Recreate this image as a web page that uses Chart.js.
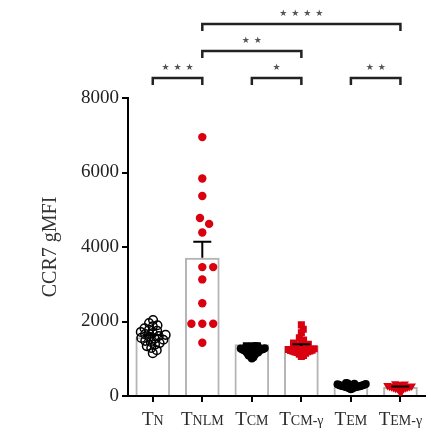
<!DOCTYPE html>
<html><head><meta charset="utf-8">
<script src="https://cdn.jsdelivr.net/npm/chart.js@4/dist/chart.umd.min.js"></script>
<style>html,body{margin:0;padding:0;background:#fff}canvas{display:block}</style>
</head><body>
<canvas id="c" width="431" height="435"></canvas>
<script>
// ---- data ----
const categories = ["TN", "TNLM", "TCM", "TCM-γ", "TEM", "TEM-γ"];
const means = [1580, 3710, 1390, 1340, 320, 240];
const sems  = [60, 430, 25, 50, 12, 18];
const yTicks = [0, 2000, 4000, 6000, 8000];
const yTitle = "CCR7 gMFI";

const tnValues = [2040, 1960, 1900, 1870, 1820, 1780, 1750, 1720, 1690, 1660, 1640, 1610,
                  1590, 1560, 1540, 1510, 1480, 1450, 1420, 1380, 1340, 1290, 1230, 1150];
const tnlmValues = [6950, 5840, 5370, 4780, 4620, 4390, 3460, 3460, 3130, 2490, 1940, 1940, 1940, 1430];
const tcmValues = [1010, 1040, 1070, 1090, 1110, 1130, 1150, 1160, 1170, 1180, 1190, 1200, 1210, 1220, 1225,
                   1230, 1240, 1245, 1250, 1255, 1260, 1270, 1275, 1280, 1290, 1300, 1310, 1320, 1330, 1340];
const tcmGValues = [1910, 1790, 1700, 1560, 1500, 1480, 1420, 1390, 1370, 1350, 1330, 1310, 1290, 1270,
                    1250, 1240, 1230, 1220, 1210, 1200, 1190, 1180, 1170, 1150, 1120, 1090, 1060];
const temValues = [180, 200, 210, 220, 230, 235, 240, 245, 250, 255, 260, 265, 270, 275, 280, 285, 290,
                   295, 300, 305, 310, 315, 320, 330, 340, 350];
const temGValues = [90, 150, 180, 200, 210, 210, 220, 230, 240, 240, 250, 255, 260, 270, 280, 290, 300,
                    310, 320, 330];

const sigFrom  = [0, 2, 4, 1, 1];
const sigTo    = [1, 3, 5, 3, 5];
const sigStars = ["***", "*", "**", "**", "****"];
const sigLevel = [0, 0, 0, 1, 2];

// ---- beeswarm layout (computed, converts pixel spread to category units) ----
function swarm(values, idx, diam, halfWidth) {
  const pxPerCat = 50, pxPerUnit = 298 / 8000;
  const sorted = values.slice().sort((a, b) => a - b);
  const placed = [];
  for (const v of sorted) {
    const y = v * pxPerUnit;
    const cands = [0];
    for (const p of placed) {
      const dy = Math.abs(p.y - y);
      if (dy < diam) { const dx = Math.sqrt(diam * diam - dy * dy); cands.push(p.x + dx, p.x - dx); }
    }
    cands.sort((a, b) => Math.abs(a) - Math.abs(b));
    let x = 0;
    for (const c of cands) {
      if (placed.every(p => (p.x - c) ** 2 + (p.y - y) ** 2 >= diam * diam - 0.01)) { x = c; break; }
    }
    placed.push({x, y, v});
  }
  const maxX = Math.max(...placed.map(p => Math.abs(p.x)), 1e-9);
  const k = maxX > halfWidth ? halfWidth / maxX : 1;
  return placed.map(p => ({x: idx + p.x * k / pxPerCat, y: p.v}));
}

const RED = '#d90010';
const SERIF = "'Liberation Serif', 'DejaVu Serif', serif";

const errorBars = {
  id: 'errorBars',
  afterDatasetsDraw(chart) {
    const {ctx, scales: {x, y}} = chart;
    ctx.save();
    ctx.strokeStyle = '#000';
    ctx.lineWidth = 2;
    means.forEach((m, i) => {
      const cx = x.getPixelForValue(i);
      const y0 = y.getPixelForValue(m), y1 = y.getPixelForValue(m + sems[i]);
      ctx.beginPath();
      ctx.moveTo(cx, y0); ctx.lineTo(cx, y1);
      ctx.moveTo(cx - 9, y1); ctx.lineTo(cx + 9, y1);
      ctx.stroke();
    });
    ctx.restore();
  }
};

const extras = {
  id: 'extras',
  afterDraw(chart) {
    const {ctx, chartArea, scales: {x}} = chart;
    ctx.save();
    ctx.fillStyle = '#2a2a2a';
    ctx.textBaseline = 'alphabetic';
    categories.forEach((lab, i) => {
      const cx = x.getPixelForValue(i);
      const main = lab[0], rest = lab.slice(1);
      ctx.font = '19px ' + SERIF;
      const w1 = ctx.measureText(main).width;
      ctx.font = '14px ' + SERIF;
      const w2 = ctx.measureText(rest).width;
      const sx = cx - (w1 + w2) / 2;
      const by = chartArea.bottom + 29;
      ctx.textAlign = 'left';
      ctx.font = '19px ' + SERIF;
      ctx.fillText(main, sx, by);
      ctx.font = '14px ' + SERIF;
      ctx.fillText(rest, sx + w1, by);
    });
    const rowY = [chartArea.top - 20, chartArea.top - 47, chartArea.top - 74];
    sigFrom.forEach((f, k) => {
      const x1 = x.getPixelForValue(f), x2 = x.getPixelForValue(sigTo[k]);
      const yy = rowY[sigLevel[k]];
      ctx.strokeStyle = '#222';
      ctx.lineWidth = 2.5;
      ctx.beginPath();
      ctx.moveTo(x1, yy + 7); ctx.lineTo(x1, yy); ctx.lineTo(x2, yy); ctx.lineTo(x2, yy + 7);
      ctx.stroke();
      const n = sigStars[k].length, sp = 12;
      const mid = (x1 + x2) / 2;
      ctx.fillStyle = '#555';
      ctx.font = '9px DejaVu Sans';
      ctx.textAlign = 'center';
      ctx.textBaseline = 'middle';
      for (let s = 0; s < n; s++) {
        ctx.fillText('★', mid + (s - (n - 1) / 2) * sp, yy - 10);
      }
    });
    ctx.restore();
  }
};

new Chart(document.getElementById('c'), {
  type: 'bar',
  data: {
    labels: categories,
    datasets: [
      { type: 'bar', data: means, xAxisID: 'x', yAxisID: 'y', grouped: false, backgroundColor: 'rgba(255,255,255,0)',
        borderColor: '#b4b4b4', borderWidth: 2, barPercentage: 0.7, categoryPercentage: 1, order: 10 },
      { type: 'scatter', data: swarm(tnValues, 0, 5.5, 13), xAxisID: 'x2', yAxisID: 'y', pointStyle: 'circle', pointRadius: 4.3,
        pointBorderWidth: 1.5, pointBorderColor: '#000', pointBackgroundColor: 'rgba(0,0,0,0)', order: 1 },
      { type: 'scatter', data: swarm(tnlmValues, 1, 11, 14), xAxisID: 'x2', yAxisID: 'y', pointStyle: 'circle', pointRadius: 4.2,
        pointBorderWidth: 0, pointBackgroundColor: RED, order: 1 },
      { type: 'scatter', data: swarm(tcmValues, 2, 4, 13), xAxisID: 'x2', yAxisID: 'y', pointStyle: 'circle', pointRadius: 4,
        pointBorderWidth: 0, pointBackgroundColor: '#000', order: 1 },
      { type: 'scatter', data: swarm(tcmGValues, 3, 7, 13), xAxisID: 'x2', yAxisID: 'y', pointStyle: 'rect', pointRadius: 5,
        pointBorderWidth: 0, pointBackgroundColor: RED, order: 1 },
      { type: 'scatter', data: swarm(temValues, 4, 4, 15), xAxisID: 'x2', yAxisID: 'y', pointStyle: 'circle', pointRadius: 4,
        pointBorderWidth: 0, pointBackgroundColor: '#000', order: 1 },
      { type: 'scatter', data: swarm(temGValues, 5, 4, 13), xAxisID: 'x2', yAxisID: 'y', pointStyle: 'triangle', rotation: 180,
        pointRadius: 5, pointBorderWidth: 0, pointBackgroundColor: RED, order: 1 }
    ]
  },
  options: {
    responsive: false,
    animation: false,
    layout: { padding: { top: 98, right: 3, left: 0, bottom: 0 } },
    plugins: { legend: { display: false }, tooltip: { enabled: false } },
    scales: {
      x: {
        type: 'category', offset: true,
        grid: { offset: false, drawOnChartArea: false, drawTicks: true, tickLength: 6, color: '#000', lineWidth: 2 },
        border: { display: true, color: '#000', width: 2 },
        ticks: { display: false },
        afterFit(s) { s.height = 39; }
      },
      x2: { type: 'linear', axis: 'x', display: false, offset: false, min: -0.5, max: 5.5,
            grid: { offset: false } },
      y: {
        min: 0, max: 8000,
        afterBuildTicks(s) { s.ticks = yTicks.map(v => ({value: v})); },
        grid: { drawOnChartArea: false, drawTicks: true, tickLength: 6, color: '#000', lineWidth: 2 },
        border: { display: true, color: '#000', width: 2 },
        ticks: { color: '#222', padding: 3, font: { family: SERIF, size: 19 }, callback: v => String(v) },
        title: { display: true, text: yTitle, color: '#333', font: { family: SERIF, size: 20 },
                 padding: { top: 39, bottom: 0 } },
        afterFit(s) { s.width = 128; }
      }
    }
  },
  plugins: [errorBars, extras]
});
</script>
</body></html>
